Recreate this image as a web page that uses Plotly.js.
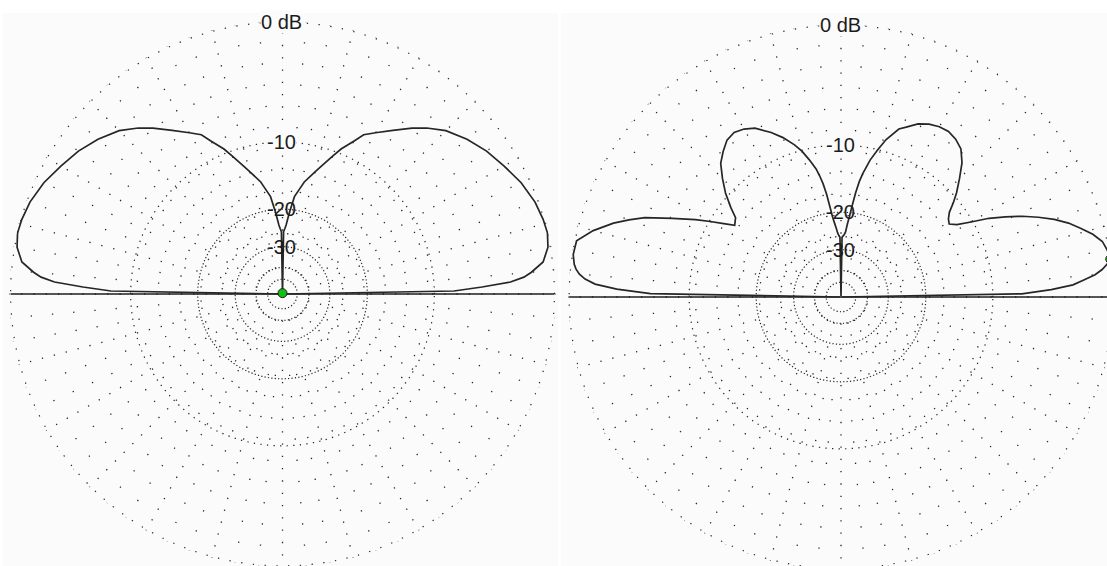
<!DOCTYPE html>
<html><head><meta charset="utf-8">
<script src="https://cdn.plot.ly/plotly-3.0.1.min.js"></script>
<style>
html,body{margin:0;padding:0;background:#fff;overflow:hidden;}
#wrap{width:1107px;height:566px;overflow:hidden;position:relative;}
#chart{width:1120px;height:580px;}
</style></head><body>
<div id="wrap"><div id="chart"></div></div>
<script>
// ---- data: elevation angle (deg; 0 = right horizon, 180 = left horizon) and gain (dB)
const leftAngle = [0,1,2,3,4,5,7,10,13,16,20,25,30,35,40,45,49,52,56,60,63,65,68,70,73,75,79,80,83,85,86,87,88,89,90,
  91,92,93,94,95,97,100,101,105,107,110,112,115,117,120,124,128,131,135,140,145,150,155,160,164,167,170,173,175,176,177,178,179,180];
const leftGain = [-99,-7.9,-5.3,-3.0,-2.0,-1.45,-0.6,-0.15,0,-0.05,-0.2,-0.55,-1.04,-1.5,-2.08,-2.8,-3.64,-4.4,-5.5,-6.5,-7.2,-8.2,-9.5,-10.6,-12.15,-13.1,-14.9,-15.6,-17.5,-20.4,-22,-23.5,-24.5,-25.3,-99,
  -25.3,-24.5,-23.5,-22,-20.4,-17.5,-15.6,-14.9,-13.1,-12.15,-10.6,-9.5,-8.2,-7.2,-6.5,-5.5,-4.4,-3.64,-2.8,-2.08,-1.5,-1.04,-0.55,-0.2,-0.05,0,-0.15,-0.6,-1.45,-2.0,-3.0,-5.3,-7.9,-99];

const rightAngle = [0,1,2,3,4,5,6,7,8,10,12,14,16,18,20,22,24,26,28,30,32,34,36,38,40,42,45,48,51,54,57,60,63,66,69,71,74,76,78,80,81,82,83,84,85,86,87,88,89,90,
  91,92,93,94,95,96,97,98,99,100,101,103,105,107,110,113,117,120,123,126,129,132,135,138,141,143,146,148,150,152,155,158,160,162,165,168,171,173,174,175,176,177,178,179,180];
const rightGain = [-99,-7.0,-4.4,-2.7,-1.9,-1.1,-0.6,-0.25,0,-0.1,-0.3,-0.8,-1.5,-2.2,-3.1,-4.2,-5.4,-6.8,-8.3,-10.2,-11.8,-12.6,-12.3,-11.7,-10.6,-9.6,-8.3,-7.0,-6.1,-5.7,-5.5,-5.56,-5.8,-6.2,-6.9,-7.3,-8.7,-10.0,-11.4,-13.3,-14.5,-16.3,-18.5,-20.8,-22.5,-24.5,-25.2,-25.6,-26,-99,
  -26,-25.5,-24.8,-23.5,-22.3,-20.9,-18.8,-16.5,-14.8,-13.6,-12.6,-11.3,-10.1,-9.2,-8.1,-7.2,-6.2,-5.8,-5.6,-5.8,-6.4,-7.1,-8.3,-9.6,-11.2,-12.4,-12.9,-11.6,-10.1,-8.6,-6.5,-4.3,-3.2,-2.2,-1.0,-0.1,-0.05,-0.2,-0.35,-0.6,-1.0,-1.7,-3.3,-6.1,-99];

// cursor (green marker) positions
const cursorAngle = [90, 8];
const cursorGain = [-99, 0];

// grid rings (dB), spokes and labels
const ringOuter = 0;
const ringTen = -10;
const ringInner = [-20, -30, -40, -50];
const majorSpokeStep = 15;
const minorSpokeStep = 5;
const majorSpokeStart = -40;
const minorSpokeStart = -26;
const labelLevels = [0, -10, -20, -30];
const labelText = ["0 dB", "-10", "-20", "-30"];
const groundAngle = [0, 0, 180];
const groundGain = [0, -99, 0];

// ---- ARRL log scale
function toR(db){ return Math.pow(0.89, -db/2); }
const RMAX = 1.004;
const W = 1120, H = 580;
const GRID = '#262626';
const BG = '#fbfbfb';

const plots = [
  {cx: 282.5, cy: 294, angle: leftAngle, gain: leftGain},
  {cx: 841, cy: 297, angle: rightAngle, gain: rightGain}
];
const Rpix = 273;

const layout = {
  width: W, height: H, margin: {l:0, r:0, t:0, b:0, pad:0},
  paper_bgcolor: '#ffffff', showlegend: false,
  shapes: [
    {type:'rect', xref:'paper', yref:'paper', x0: 3/W, x1: 558/W, y0: 0, y1: (H-13)/H, fillcolor: BG, line:{width:0}, layer:'below'},
    {type:'rect', xref:'paper', yref:'paper', x0: 561/W, x1: 1, y0: 0, y1: (H-13)/H, fillcolor: BG, line:{width:0}, layer:'below'}
  ],
  annotations: []
};
const traces = [];

// radial value inside a subplot with a hole that lands on the ring of a given dB level
function holeR(db, hole){ return (toR(db)/RMAX - hole)/(1 - hole)*RMAX; }

function axisBase(domain, opts){
  const hole = opts.hole || 0;
  const ringVals = (opts.rings || []).map(db => hole ? holeR(db, hole) : toR(db));
  const ang = {
    rotation: 0, direction: 'counterclockwise',
    showticklabels: false, ticks: '', showline: false,
    showgrid: !!opts.spokes, gridcolor: GRID, gridwidth: 1.3, griddash: opts.spokeDash || 'dot'
  };
  if (opts.spokes) { ang.tickmode = 'array'; ang.tickvals = opts.spokes; }
  return {
    domain: domain,
    bgcolor: 'rgba(0,0,0,0)',
    hole: hole,
    radialaxis: {
      range: [0, RMAX], tickmode: 'array', tickvals: ringVals,
      showticklabels: false, ticks: '', showline: false,
      showgrid: ringVals.length > 0, gridcolor: GRID, gridwidth: 1.2, griddash: opts.ringDash || 'dot'
    },
    angularaxis: ang
  };
}

const majorSpokes = [], minorSpokes = [];
for (let a = 0; a < 360; a += minorSpokeStep) {
  if (a % majorSpokeStep === 0) majorSpokes.push(a); else minorSpokes.push(a);
}

plots.forEach((p, i) => {
  const domain = {
    x: [(p.cx - Rpix)/W, (p.cx + Rpix)/W],
    y: [(H - (p.cy + Rpix))/H, (H - (p.cy - Rpix))/H]
  };
  const base = i*4;
  const names = [1,2,3,4].map(k => 'polar' + ((base+k) === 1 ? '' : (base+k)));
  const h1 = toR(majorSpokeStart)/RMAX, h2 = toR(minorSpokeStart)/RMAX;
  layout[names[0]] = axisBase(domain, {hole: h1, spokes: majorSpokes, spokeDash: '1.3px,11px',
                                       rings: [ringOuter - 0.003], ringDash: '1.3px,10.5px'});
  layout[names[1]] = axisBase(domain, {hole: h2, spokes: minorSpokes, spokeDash: '1.3px,20px',
                                       rings: [ringTen], ringDash: '1.3px,5.3px'});
  layout[names[2]] = axisBase(domain, {rings: ringInner, ringDash: '1.2px,2.2px'});
  for (let k=0;k<3;k++) traces.push({type:'scatterpolar', subplot: names[k], r: [], theta: [], mode:'lines', hoverinfo:'skip'});
  // ground line
  traces.push({type:'scatterpolar', subplot: names[2], r: groundGain.map(toR), theta: groundAngle,
    mode:'lines', line:{color:'#1e1e1e', width:1.6}, hoverinfo:'skip', cliponaxis:false});
  // pattern
  traces.push({type:'scatterpolar', subplot: names[2], r: p.gain.map(toR), theta: p.angle,
    mode:'lines', line:{color:'#262626', width:1.7}, hoverinfo:'skip', cliponaxis:false});
  // cursor marker
  traces.push({type:'scatterpolar', subplot: names[2], r: [toR(cursorGain[i])], theta: [cursorAngle[i]],
    mode:'markers', marker:{color:'#10c010', size:9, line:{color:'#1a1a1a', width:1}}, hoverinfo:'skip', cliponaxis:false});
  // labels
  labelLevels.forEach((lv, j) => {
    const ringPix = Rpix * toR(lv) / RMAX;
    layout.annotations.push({
      xref:'paper', yref:'paper', x: (p.cx - 1)/W, y: (H - (p.cy - ringPix))/H,
      xanchor:'center', yanchor:'middle', showarrow:false, text: labelText[j],
      font:{family:'Liberation Sans, Arial, sans-serif', size:20, color:'#1c1c1c'},
      bgcolor: j < 2 ? BG : 'rgba(0,0,0,0)', borderpad: 0
    });
  });
});

Plotly.newPlot('chart', traces, layout, {staticPlot:true, displayModeBar:false});
</script>
</body></html>
